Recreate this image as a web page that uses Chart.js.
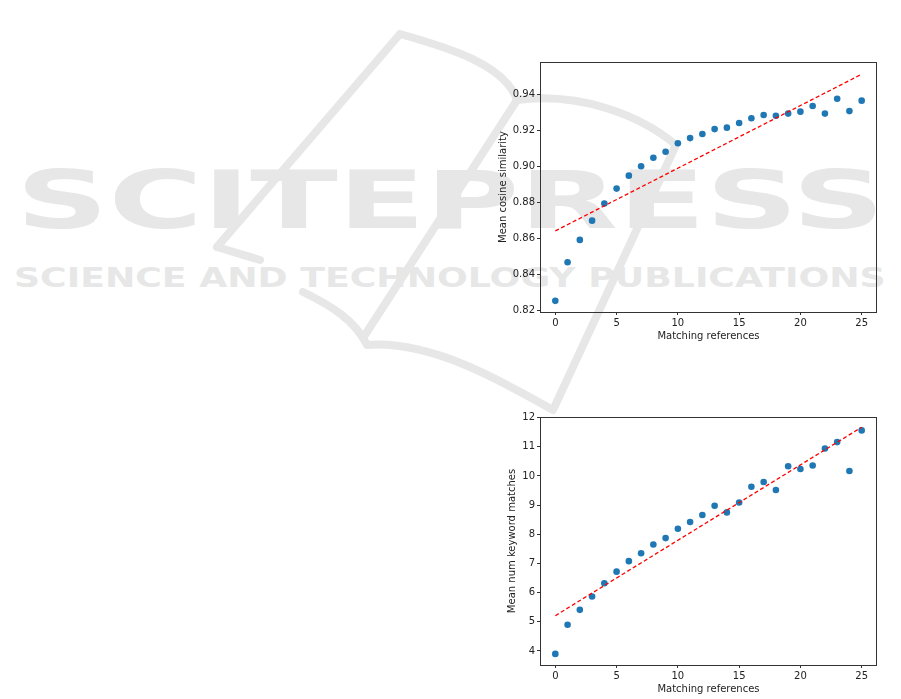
<!DOCTYPE html>
<html>
<head>
<meta charset="utf-8">
<script src="https://cdn.jsdelivr.net/npm/chart.js@4.4.0/dist/chart.umd.min.js"></script>
<style>
  body { margin: 0; width: 901px; height: 699px; background: #fff; position: relative; overflow: hidden; font-family: "DejaVu Sans"; }
  .wm { position: absolute; color: #e6e7e6; font-weight: bold; white-space: nowrap; transform-origin: 0 0; line-height: 1; }
  .box { position: absolute; left: 490px; width: 400px; }
  #logo { position: absolute; left: 0; top: 0; }
</style>
</head>
<body>
<!-- водяной знак издательства (фон) -->
<svg id="logo" width="901" height="699">
  <g fill="none" stroke="#e6e7e6" stroke-width="8" stroke-linejoin="round" stroke-linecap="round">
    <path d="M217,247 L400,34 C450,48 505,65 517,100 C580,92 640,115 676,145 L553,410 C500,380 430,340 367,345 C355,320 330,305 303,292"/>
    <path d="M517,100 L363,338"/>
    <path d="M260,197 L217,247 L260,260"/>
  </g>
</svg>
<div class="wm" id="wm1" style="left:16px; top:161px; font-size:80px;">SCITEPRESS</div>
<div class="wm" id="wm2" style="left:14px; top:264px; font-size:27px;">SCIENCE AND TECHNOLOGY PUBLICATIONS</div>

<div class="box" style="top:50px; height:300px;"><canvas id="cosChart" width="400" height="300"></canvas></div>
<div class="box" style="top:405px; height:294px;"><canvas id="kwChart" width="400" height="294"></canvas></div>

<script>
// данные
const refs = [0, 1, 2, 3, 4, 5, 6, 7, 8, 9, 10, 11, 12, 13, 14, 15, 16, 17, 18, 19, 20, 21, 22, 23, 24, 25];
const cosSim = [0.8252, 0.8467, 0.8591, 0.8698, 0.8793, 0.8876, 0.8948, 0.9000, 0.9048, 0.9081,
                0.9128, 0.9157, 0.9180, 0.9207, 0.9215, 0.9241, 0.9267, 0.9285, 0.9281, 0.9293,
                0.9304, 0.9335, 0.9293, 0.9376, 0.9307, 0.9365];
const kwMatches = [3.90, 4.90, 5.41, 5.87, 6.32, 6.72, 7.08, 7.35, 7.65, 7.87,
                   8.19, 8.42, 8.66, 8.98, 8.75, 9.09, 9.63, 9.79, 9.52, 10.33,
                   10.24, 10.36, 10.94, 11.16, 10.17, 11.56];
// линия тренда: значения на концах (x = 0 и x = 25)
const trendX = [0, 25];
const cosTrend = [0.8641, 0.9512];
const kwTrend = [5.21, 11.67];

const xTicks = [0, 5, 10, 15, 20, 25];
const cosTicks = [0.82, 0.84, 0.86, 0.88, 0.90, 0.92, 0.94];
const kwTicks = [4, 5, 6, 7, 8, 9, 10, 11, 12];

// растягиваем водяной знак по ширине
function fitWidth(id, w) {
    const el = document.getElementById(id);
    el.style.transform = 'scaleX(' + (w / el.offsetWidth) + ')';
}
fitWidth('wm1', 869);
fitWidth('wm2', 871);

const font = { family: 'DejaVu Sans', size: 10 };
const ink = '#222';

// рамка вокруг области графика (как в matplotlib)
const framePlugin = {
    id: 'frame',
    afterDraw(chart) {
        const { ctx, chartArea: a } = chart;
        ctx.save();
        ctx.strokeStyle = '#333';
        ctx.lineWidth = 1;
        ctx.strokeRect(a.left + 0.5, a.top + 0.5, a.right - a.left - 1, a.bottom - a.top);
        ctx.restore();
    }
};

function makeChart(id, values, trend, opt) {
    return new Chart(document.getElementById(id), {
        type: 'scatter',
        data: {
            datasets: [
                {
                    data: trendX.map((x, i) => ({ x: x, y: trend[i] })),
                    showLine: true,
                    borderColor: '#ff0000',
                    borderWidth: 1.3,
                    borderDash: [4, 2.5],
                    pointRadius: 0,
                    order: 0
                },
                {
                    data: refs.map((x, i) => ({ x: x, y: values[i] })),
                    backgroundColor: '#1f77b4',
                    borderWidth: 0,
                    pointRadius: 3.3,
                    pointHoverRadius: 3.3,
                    order: 1
                }
            ]
        },
        options: {
            responsive: false,
            animation: false,
            devicePixelRatio: 1,
            layout: { padding: { top: 12, right: 13, left: 0, bottom: 0 } },
            plugins: { legend: { display: false }, tooltip: { enabled: false } },
            events: [],
            scales: {
                x: {
                    type: 'linear',
                    min: -1.25,
                    max: 26.25,
                    afterBuildTicks: s => { s.ticks = xTicks.map(v => ({ value: v })); },
                    afterFit: s => { s.height = opt.xHeight; },
                    grid: { drawOnChartArea: false, tickLength: 3, color: '#333' },
                    border: { display: false },
                    ticks: { color: ink, font: font, padding: 2, maxRotation: 0, autoSkip: false },
                    title: { display: true, text: 'Matching references', color: ink, font: font, padding: { top: 0, bottom: opt.xTitlePad } }
                },
                y: {
                    type: 'linear',
                    min: opt.yMin,
                    max: opt.yMax,
                    afterBuildTicks: s => { s.ticks = opt.yTicks.map(v => ({ value: v })); },
                    afterFit: s => { s.width = 50; },
                    grid: { drawOnChartArea: false, tickLength: 3, color: '#333' },
                    border: { display: false },
                    ticks: { color: ink, font: font, padding: 2, autoSkip: false, callback: opt.fmt },
                    title: { display: true, text: opt.yTitle, color: ink, font: font, padding: { top: opt.yTitlePad, bottom: 0 } }
                }
            }
        },
        plugins: [framePlugin]
    });
}

makeChart('cosChart', cosSim, cosTrend, {
    yMin: 0.819, yMax: 0.958, yTicks: cosTicks,
    fmt: v => v.toFixed(2),
    yTitle: 'Mean cosine similarity', yTitlePad: 7,
    xHeight: 38, xTitlePad: 8
});

makeChart('kwChart', kwMatches, kwTrend, {
    yMin: 3.52, yMax: 12.02, yTicks: kwTicks,
    fmt: v => String(v),
    yTitle: 'Mean num keyword matches', yTitlePad: 16,
    xHeight: 34, xTitlePad: 4
});
</script>
</body>
</html>
